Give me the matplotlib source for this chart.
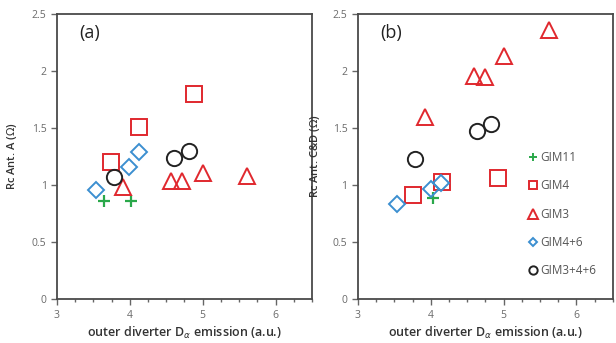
import numpy as np
import matplotlib.pyplot as plt
from matplotlib.ticker import MultipleLocator

plt.rcParams['font.family'] = ['Open Sans', 'DejaVu Sans']

# panel (a): Rc antenna A
a_gim11_x = [3.64, 4.02]
a_gim11_y = [0.86, 0.86]
a_gim4_x = [3.74, 4.13, 4.88]
a_gim4_y = [1.20, 1.51, 1.80]
a_gim3_x = [3.90, 4.57, 4.72, 5.00, 5.61]
a_gim3_y = [0.98, 1.04, 1.04, 1.11, 1.08]
a_gim46_x = [3.54, 3.99, 4.13]
a_gim46_y = [0.96, 1.16, 1.29]
a_gim346_x = [3.78, 4.60, 4.81]
a_gim346_y = [1.07, 1.24, 1.30]

# panel (b): Rc antenna C&D
b_gim11_x = [4.03]
b_gim11_y = [0.89]
b_gim4_x = [3.75, 4.15, 4.92]
b_gim4_y = [0.91, 1.03, 1.06]
b_gim3_x = [3.92, 4.60, 4.74, 5.01, 5.62]
b_gim3_y = [1.60, 1.96, 1.95, 2.13, 2.36]
b_gim46_x = [3.54, 4.00, 4.14]
b_gim46_y = [0.83, 0.97, 1.02]
b_gim346_x = [3.79, 4.63, 4.83]
b_gim346_y = [1.23, 1.47, 1.54]

labels = ['GIM11', 'GIM4', 'GIM3', 'GIM4+6', 'GIM3+4+6']
green = '#2aa84a'
red = '#e0282e'
blue = '#3c8fd0'
black = '#222222'
gray = '#666666'


def panel(ax, data, tag, ylabel, ylab_x):
    (x11, y11), (x4, y4), (x3, y3), (x46, y46), (x346, y346) = data
    ax.plot(x11, y11, '+', color=green, ms=8, mew=1.6, ls='none', label=labels[0])
    ax.plot(x4, y4, 's', mfc='none', mec=red, ms=11, mew=1.4, ls='none', label=labels[1])
    ax.plot(x3, y3, '^', mfc='none', mec=red, ms=11.5, mew=1.4, ls='none', label=labels[2])
    ax.plot(x46, y46, 'D', mfc='none', mec=blue, ms=8, mew=1.4, ls='none', label=labels[3])
    ax.plot(x346, y346, 'o', mfc='none', mec=black, ms=11, mew=1.4, ls='none', label=labels[4])
    ax.set_xlim(3, 6.5)
    ax.set_ylim(0, 2.5)
    ax.xaxis.set_major_locator(MultipleLocator(1))
    ax.xaxis.set_minor_locator(MultipleLocator(0.25))
    ax.set_yticks([0, 0.5, 1, 1.5, 2, 2.5])
    ax.set_yticklabels(['0', '0.5', '1', '1.5', '2', '2.5'])
    ax.tick_params(which='major', direction='out', length=4, width=1, color=gray,
                   labelsize=7.5, labelcolor='#6a6a6a')
    ax.tick_params(which='minor', direction='out', length=2.5, width=1, color=gray)
    for s in ax.spines.values():
        s.set_color('#4a4a4a')
        s.set_linewidth(1.3)
    ax.set_xlabel(r'outer diverter D$_\alpha$ emission (a.u.)', fontsize=9,
                  fontweight='semibold', color='#333333', labelpad=3)
    ax.set_ylabel(ylabel, fontsize=8, fontweight='semibold', color='#333333')
    ax.yaxis.set_label_coords(ylab_x, 0.5)
    ax.text(3.3, 2.29, tag, fontsize=13, color='#222222')


fig = plt.figure(figsize=(6.16, 3.43), dpi=100)
ax1 = fig.add_axes([0.0925, 0.128, 0.414, 0.831])
ax2 = fig.add_axes([0.581, 0.128, 0.414, 0.831])

panel(ax1, [(a_gim11_x, a_gim11_y), (a_gim4_x, a_gim4_y), (a_gim3_x, a_gim3_y),
            (a_gim46_x, a_gim46_y), (a_gim346_x, a_gim346_y)],
      '(a)', r'Rc Ant. A ($\Omega$)', -0.15)
panel(ax2, [(b_gim11_x, b_gim11_y), (b_gim4_x, b_gim4_y), (b_gim3_x, b_gim3_y),
            (b_gim46_x, b_gim46_y), (b_gim346_x, b_gim346_y)],
      '(b)', r'Rc Ant. C&D ($\Omega$)', -0.14)

# compact legend markers
handles = [
    plt.Line2D([], [], marker='+', color=green, ms=6, mew=1.4, ls='none'),
    plt.Line2D([], [], marker='s', mfc='none', mec=red, ms=6, mew=1.4, ls='none'),
    plt.Line2D([], [], marker='^', mfc='none', mec=red, ms=6.5, mew=1.4, ls='none'),
    plt.Line2D([], [], marker='D', mfc='none', mec=blue, ms=4.5, mew=1.4, ls='none'),
    plt.Line2D([], [], marker='o', mfc='none', mec=black, ms=6, mew=1.4, ls='none'),
]
leg = ax2.legend(handles, labels, loc='upper left', bbox_to_anchor=(0.65, 0.54),
                 frameon=False, fontsize=8.5, labelspacing=1.3, handlelength=0.6,
                 handletextpad=0.3, borderpad=0)
for t in leg.get_texts():
    t.set_color('#555555')

fig.savefig('out.png', dpi=100)
